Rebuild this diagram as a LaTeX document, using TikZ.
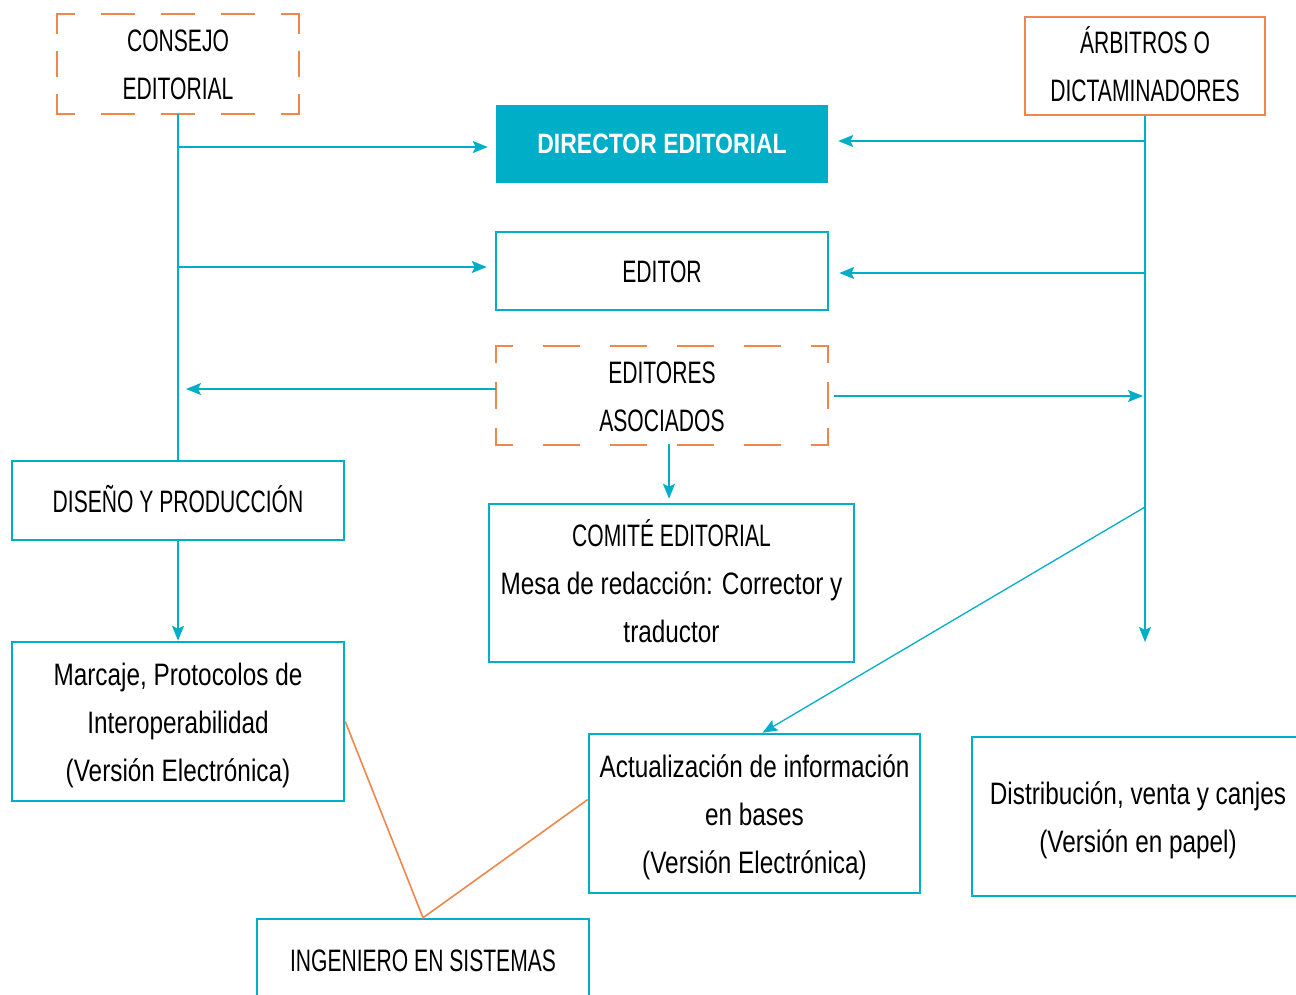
\documentclass[tikz,border=0pt]{standalone}
\usepackage{fontspec}
\setmainfont{Liberation Sans}[FakeStretch=0.785]
\newfontfamily\capf{Liberation Sans}[FakeStretch=0.68]
\newfontfamily\dirfont{Liberation Sans Bold}[FakeStretch=0.82]
\usetikzlibrary{arrows.meta}
\definecolor{cy}{RGB}{0,174,199}
\definecolor{orng}{RGB}{240,135,74}
\newcommand\lnst{\rule[-12.5pt]{0pt}{48pt}}
\newcommand\cl{\capf\lnst}
\begin{document}
\begin{tikzpicture}[x=1pt,y=-1pt,
  txt/.style={inner sep=0pt, align=center, font=\fontsize{31}{48}\selectfont},
  cbox/.style={txt, draw=cy, line width=2.5pt, minimum width=332pt},
  obox/.style={txt, draw=orng, line width=2pt, minimum width=240pt, minimum height=98pt},
  dbox/.style={txt, minimum width=332pt},
  conn/.style={draw=cy, line width=2pt},
  arr/.style={conn, -{Stealth[length=15pt,width=12pt,inset=3pt]}},
  oline/.style={draw=orng, line width=1.6pt},
  odash/.style={draw=orng, line width=2.2pt, line cap=rect},
]
\useasboundingbox (0,0) rectangle (1296,994);

% nodes
\node[obox, draw=none] (cons) at (178,64) {\cl CONSEJO\\\cl EDITORIAL};
\node[inner sep=0pt, fill=cy, minimum width=332pt, minimum height=78pt, text=white,
      font=\dirfont\fontsize{28}{34}\selectfont] (dir) at (662,144) {\raisebox{-1pt}{DIRECTOR EDITORIAL}};
\node[obox] (arb) at (1145,66) {\cl ÁRBITROS O\\\cl DICTAMINADORES};
\node[cbox, minimum height=78pt] (ed) at (662,271) {\cl EDITOR};
\node[dbox, minimum height=98pt] (eda) at (662,395.5) {\cl EDITORES\\\cl ASOCIADOS};
\node[cbox, minimum height=79pt] (dis) at (178,500.5) {\cl DISEÑO Y PRODUCCIÓN};
\node[cbox, minimum width=365pt, minimum height=158pt] (com) at (671.5,583)
  {\cl COMITÉ EDITORIAL\\\lnst Mesa de redacción: Corrector y\\\lnst traductor};
\node[cbox, minimum height=159pt] (mar) at (178,721.5)
  {\lnst Marcaje, Protocolos de\\\lnst Interoperabilidad\\\lnst (Versión Electrónica)};
\node[cbox, minimum width=331pt, minimum height=159pt] (act) at (754.5,813.5)
  {\lnst Actualización de información\\\lnst en bases\\\lnst (Versión Electrónica)};
\node[cbox, minimum height=159pt] (dst) at (1138,816.5)
  {\lnst Distribución, venta y canjes\\\lnst (Versión en papel)};
\node[cbox, minimum height=82pt] (ing) at (423,960) {\cl INGENIERO EN SISTEMAS};

% dashed boxes
\begin{scope}[odash]
  \foreach \c in {north west, north east}
    \draw[dash pattern=on 31pt off 29pt, dash phase=15.5pt] (cons.north) -- (cons.\c);
  \foreach \c in {south west, south east}
    \draw[dash pattern=on 31pt off 29pt, dash phase=15.5pt] (cons.south) -- (cons.\c);
  \foreach \c in {north west, south west}
    \draw[dash pattern=on 24pt off 19pt, dash phase=12pt] (cons.west) -- (cons.\c);
  \foreach \c in {north east, south east}
    \draw[dash pattern=on 24pt off 19pt, dash phase=12pt] (cons.east) -- (cons.\c);
  \foreach \c in {north west, north east}
    \draw[dash pattern=on 34pt off 33pt, dash phase=50.5pt] (eda.north) -- (eda.\c);
  \foreach \c in {south west, south east}
    \draw[dash pattern=on 34pt off 33pt, dash phase=50.5pt] (eda.south) -- (eda.\c);
  \foreach \c in {north west, south west}
    \draw[dash pattern=on 25pt off 21pt, dash phase=12.5pt] (eda.west) -- (eda.\c);
  \foreach \c in {north east, south east}
    \draw[dash pattern=on 25pt off 21pt, dash phase=12.5pt] (eda.east) -- (eda.\c);
\end{scope}

% coordinates
\coordinate (c1) at (178,147);
\coordinate (c2) at (178,267);
\coordinate (e1) at (496,389);
\coordinate (e2) at (834,396);
\coordinate (a1) at (1145,141);
\coordinate (a2) at (1145,273);
\coordinate (d1) at (1145,507);
\coordinate (rend) at (1145,642);
\coordinate (e3) at (669,444);

% left trunk
\draw[conn] (cons.south) -- (dis.north);
\draw[arr, shorten >=8pt] (c1) -- (c1 -| dir.west);
\draw[arr, shorten >=8pt] (c2) -- (c2 -| ed.west);
\draw[arr, shorten >=8pt] (e1) -- (e1 -| cons.south);
% right trunk
\draw[arr] (arb.south) -- (rend);
\draw[arr, shorten >=10pt] (a1) -- (a1 -| dir.east);
\draw[arr, shorten >=10pt] (a2) -- (a2 -| ed.east);
\draw[arr, shorten >=2pt] (e2) -- (e2 -| arb.south);
% down arrows
\draw[arr, shorten >=4pt] (e3) -- (e3 |- com.north);
\draw[arr] (dis.south) -- (mar.north);
\draw[arr, line width=1.3pt] (d1) -- ([xshift=8pt]act.north);
% orange connectors
\draw[oline] (mar.east) -- (ing.north) -- ([yshift=14pt]act.west);
\end{tikzpicture}
\end{document}
